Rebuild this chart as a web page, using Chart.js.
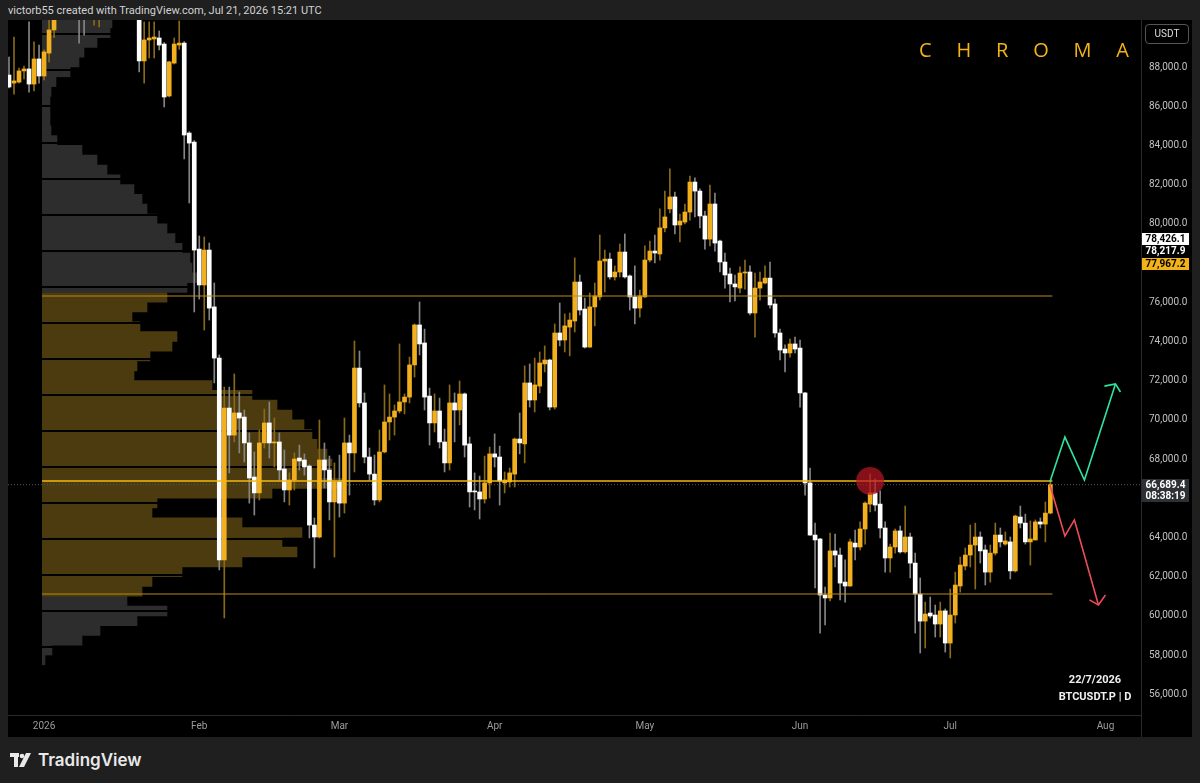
<!DOCTYPE html>
<html>
<head>
<meta charset="utf-8">
<script src="https://cdn.jsdelivr.net/npm/chart.js"></script>
<style>
  body { margin:0; width:1200px; height:783px; overflow:hidden; background:#1f1f1f; font-family:Roboto, "Liberation Sans", sans-serif; }
  #hdr { position:absolute; left:8px; top:4px; font-size:11px; color:#d2d2d2; }
  #panel { position:absolute; left:8px; top:20px; width:1184px; height:717px; background:#000; }
  #profWrap { position:absolute; left:42px; top:20px; width:400px; height:695px; }
  #mainWrap { position:absolute; left:8px; top:20px; width:1184px; height:717px; }
  #axisSep { position:absolute; left:1141px; top:715px; width:1px; height:22px; background:#2a2a2a; }
  #chroma { position:absolute; left:919px; top:36px; width:210px; display:flex; justify-content:space-between;
            font-family:"Open Sans", sans-serif; font-size:20px; color:#f2b418; }
  .plabel { position:absolute; left:1142px; width:47px; font-size:10px; font-weight:bold; text-align:center; }
  #usdt { position:absolute; left:1145px; top:24px; width:42px; height:18px; border:1px solid #555; border-radius:4px;
          font-size:10px; color:#ddd; text-align:center; line-height:18px; }
  .info { position:absolute; left:1040px; width:110px; text-align:center; font-size:11px; font-weight:bold; color:#f0f0f0; }
  #logo { position:absolute; left:10px; top:750px; display:flex; align-items:center; gap:6px;
          font-family:Inter, Roboto, sans-serif; font-size:17px; font-weight:600; color:#e9e9e9; }
</style>
</head>
<body>
<div id="hdr">victorb55 created with TradingView.com, Jul 21, 2026 15:21 UTC</div>
<div id="panel"></div>
<div id="profWrap"><canvas id="prof"></canvas></div>
<div id="mainWrap"><canvas id="main"></canvas></div>
<div id="axisSep"></div>
<div id="chroma"><span>C</span><span>H</span><span>R</span><span>O</span><span>M</span><span>A</span></div>
<div id="usdt">USDT</div>
<div class="plabel" style="top:233px;height:12px;line-height:12px;background:#fff;color:#000;">78,426.1</div>
<div class="plabel" style="top:245px;height:12px;line-height:12px;background:#000;color:#fff;">78,217.9</div>
<div class="plabel" style="top:258px;height:12px;line-height:12px;background:#f2b21a;color:#000;">77,967.2</div>
<div class="plabel" style="top:479px;height:23px;line-height:11px;background:#2d3034;color:#fff;">66,689.4<br>08:38:19</div>
<div class="info" style="top:673px;">22/7/2026</div>
<div class="info" style="top:690px;">BTCUSDT.P | D</div>
<div id="logo">
  <svg width="22" height="16" viewBox="0 0 22 16">
    <rect x="0" y="1" width="9" height="4" fill="#e9e9e9"/>
    <rect x="4" y="1" width="4" height="14" fill="#e9e9e9"/>
    <circle cx="12" cy="4" r="2.3" fill="#e9e9e9"/>
    <polygon points="16,1 21,1 14,15 9,15" fill="#e9e9e9"/>
  </svg>
  <span>TradingView</span>
</div>

<script>
// BTCUSDT.P daily candles, first candle = 2025-12-25
const startDate = '2025-12-25';
const openP = [87590,87180,87230,87800,87900,87130,88410,87540,88710,89890,
  90700,91500,93900,93700,91300,91000,90500,90600,90900,91200,
  95400,97000,95600,95500,95100,93000,92600,88310,89380,89430,
  89480,89170,86520,88200,89120,89220,84630,84170,78710,76880,
  78660,75760,73150,62850,70600,69220,70350,70140,68820,67080,
  66270,68820,69840,68820,68870,67490,66420,66930,68050,67950,
  67640,64630,64020,67950,67440,65810,66830,65750,68820,68310,
  72640,70860,68100,67230,65910,68360,69890,70140,70450,70910,
  71160,72800,74840,73920,71210,69840,70450,68870,67800,70860,
  70500,71320,68770,66370,66320,65960,66780,68260,68100,66780,
  66830,67230,69020,68770,71880,71010,71720,72850,73050,70650,
  74430,74070,74730,75040,77030,75650,73710,75760,76270,78100,
  78200,77290,77540,78560,77340,76270,75700,76270,78150,78610,
  78460,79790,80760,81370,79940,80090,80600,82130,81670,80400,
  79220,81010,79120,78050,77440,76930,76720,77490,77540,75450,
  76720,76980,77230,75910,74430,73610,73410,73870,73660,71370,
  66780,64120,63920,61060,60910,63310,63100,61720,61520,63710,
  63510,64430,65700,66270,65700,64480,62950,63510,64330,63260,
  64020,62690,61110,59730,60140,60040,59580,60250,58610,60040,
  61520,62540,63100,63610,64020,63360,62230,63200,64120,63660,
  63770,62290,65040,64730,63770,63870,64790,64680,65240];
const highP = [88510,89530,87950,88050,90300,89280,89120,88870,90500,91000,
  91800,94700,94800,93800,91600,91800,90900,91300,92400,96000,
  97900,97200,95900,95600,95500,93400,92800,90300,90300,90300,
  89840,89250,88300,89480,90350,89300,84700,84250,79380,79330,
  79020,76980,73310,71670,71670,72340,71420,70500,69330,68360,
  69480,70550,70910,70090,69330,68460,67290,68310,68710,68260,
  67700,64990,69990,68820,68150,67800,68200,70090,69220,74020,
  73510,71370,68560,68200,69480,71780,71320,70760,73870,71320,
  73200,74890,76010,74630,71620,71320,71110,69530,71780,71370,
  71980,71370,69120,67290,67130,68150,68610,69280,68660,67340,
  67540,69070,70350,72750,72850,73150,73460,73770,73100,74890,
  75960,75400,75450,78260,77390,76210,76470,76980,79430,78660,
  78510,77850,78970,79480,77390,77850,76620,78870,79120,79430,
  80760,81670,82800,81620,80500,81010,82440,82340,81780,80650,
  81980,81570,79170,78510,77740,77390,77800,78150,77850,77490,
  77540,77850,78050,76160,74630,73820,74120,74220,74070,71400,
  67540,64730,63950,61470,64220,64170,63460,62850,63920,64380,
  64790,65810,67230,66980,66370,64790,63660,64430,64580,65600,
  64220,63200,61930,60700,60960,60550,60700,60350,61370,62230,
  63000,63460,64630,64730,64280,63610,63610,64730,64480,64280,
  64020,65140,65600,65190,64840,64890,64990,65810,66880];
const lowP = [86930,86620,87180,87390,86720,86780,87180,87340,88260,89500,
  90500,91300,92300,90800,89220,89630,90450,90140,90040,91000,
  94600,95000,94300,94900,92500,91000,87750,87180,88460,88460,
  88870,85960,86470,88150,88900,83310,81060,75500,76160,74580,
  75090,71880,62340,59890,67290,68870,68310,67850,65750,65140,
  65910,68560,68050,67590,66930,65810,65650,66420,67440,67180,
  63970,62440,63970,66520,64890,63000,65040,65240,66160,67340,
  70650,67800,66930,65650,65810,68310,68970,69220,70350,70300,
  70860,72180,73310,70500,68710,69380,68560,67340,67440,68870,
  69740,68100,65550,65400,64940,65750,66010,67590,65650,66270,
  66570,66570,68260,67800,70650,70400,71370,72440,70500,70550,
  73770,73460,73260,74480,75350,73660,73700,74790,76110,76520,
  77180,77130,77290,77230,75600,74890,75240,76250,78050,78000,
  78150,79580,80550,79480,79070,79990,80190,80350,79790,78710,
  78870,78610,77540,76720,76010,76060,76470,76670,75350,74220,
  76110,76930,75700,74220,73050,72440,73200,73410,70650,66160,
  64100,61420,59120,59530,60760,62490,60810,60700,61500,62850,
  63360,63660,65300,65350,63970,62230,62230,63200,63200,63200,
  61930,59120,58100,58360,59890,58920,58920,58150,57850,59630,
  61210,62340,62490,61370,62690,61570,61720,63100,63510,63600,
  61880,62230,64480,63660,62590,63860,64480,63770,65200];
const closeP = [86980,87290,87800,87900,87130,88410,87540,88770,89890,90700,
  91500,93900,93700,91300,91000,90500,90600,90900,91200,95400,
  97000,95600,95500,95100,93000,92600,88310,89380,89480,89530,
  89120,86470,88260,89170,89220,84530,84120,78660,76880,78660,
  75700,73150,62850,70600,69220,70350,70090,68820,67030,66270,
  68820,69840,68820,68870,67440,66420,66930,68000,67900,67590,
  64630,64020,67950,67440,65810,66830,65750,68820,68310,72640,
  70860,68100,67230,65910,68360,69890,70140,70450,70910,71160,
  72800,74840,73870,71160,69840,70450,68870,67800,70860,70500,
  71320,68710,66320,66320,65960,66780,68260,68100,66880,66930,
  67290,69020,68820,71880,71010,71780,72900,73050,70650,74430,
  74070,74790,75090,77030,75600,73710,75760,76320,78100,78200,
  77290,77540,78560,77290,76270,75700,76320,78150,78610,78510,
  79790,80350,81370,79940,80140,80600,82130,81670,80400,79220,
  81010,79020,78050,77390,76930,76780,77490,77540,75450,76720,
  77030,77230,75860,74430,73560,73410,73870,73610,71370,66780,
  64120,63870,61060,60910,63310,63100,61670,61520,63770,63510,
  64430,65750,66270,65650,64480,62950,63510,64330,63260,64020,
  62690,61110,59730,60090,59990,59580,60250,58610,60040,61570,
  62590,63100,63610,64020,63310,62230,63200,64120,63770,63820,
  62290,65090,64730,63770,63920,64790,64680,65240,66689.4];

// time axis
const monthTickDates = ['2026-01-01','2026-02-01','2026-03-01','2026-04-01','2026-05-01','2026-06-01','2026-07-01','2026-08-01'];
const monthTickLabels = ['2026','Feb','Mar','Apr','May','Jun','Jul','Aug'];

// drawn levels (value area high, point of control, value area low) and last price
const levelVAH = 76316;
const levelPOC = 66880;
const levelVAL = 61112;
const lastPrice = 66689.4;
const levelFrom = '2026-01-01';
const levelTo = '2026-07-21';

// fixed range volume profile (row price, volume in k BTC)
const profilePrice = [57750,58250,58750,59250,59750,60250,60750,61250,61750,62250,
  62750,63250,63750,64250,64750,65250,65750,66250,66750,67250,
  67750,68250,68750,69250,69750,70250,70750,71250,71750,72250,
  72750,73250,73750,74250,74750,75250,75750,76250,76750,77250,
  77750,78250,78750,79250,79750,80250,80750,81250,81750,82250,
  82750,83250,83750,84250,84750,85250,85750,86250,86750,87250,
  87750,88250,88750,89250,89750,90250];
const profileVol = [0.3,1.0,4.0,5.8,9.5,12.5,8.5,10.0,11.0,14.0,
  20.0,25.5,24.0,26.0,20.0,11.0,11.5,23.0,30.0,28.0,
  29.0,28.5,27.5,27.0,26.2,25.0,23.5,21.0,17.0,9.2,
  9.5,10.8,13.0,13.5,9.8,9.0,10.5,12.5,14.5,15.5,
  15.0,14.8,14.0,13.3,12.5,11.5,10.5,10.0,9.2,7.8,
  6.5,5.5,4.0,1.5,0.9,0.8,0.8,0.8,0.9,1.4,
  2.8,3.7,4.2,5.5,6.8,7.0];

// scenario arrows (bar index, price) and the marked rejection
const bullX = [207.9, 210.9, 214.8, 221.0];
const bullY = [66830, 69120, 66930, 71830];
const bullHeadX = [218.8, 221.0, 222.0];
const bullHeadY = [71720, 71830, 71420];
const bearX = [207.9, 210.9, 212.8, 217.6];
const bearY = [66670, 64070, 64890, 60550];
const bearHeadX = [215.8, 217.6, 219.0];
const bearHeadY = [60810, 60550, 61060];
const markDate = '2026-06-15';
const markPrice = 66880;

// ---------------------------------------------------------------
const DAY = 86400000;
const dayIndex = d => Math.round((Date.parse(d) - Date.parse(startDate)) / DAY);
const tickIdx = monthTickDates.map(dayIndex);
const idx = openP.map((_, i) => i);
const isUp = i => closeP[i] >= openP[i];
const xMin = -0.2, xMax = 226.1, yMin = 54939, yMax = 90398;
const pts = (xs, ys) => xs.map((x, i) => ({ x: x, y: ys[i] }));
const hline = (v) => [{ x: dayIndex(levelFrom) - 0.4, y: v }, { x: dayIndex(levelTo) + 0.4, y: v }];
const noPad = s => { s.paddingLeft = 0; s.paddingRight = 0; s.paddingTop = 0; s.paddingBottom = 0; };

// volume profile, behind the candles
new Chart(document.getElementById('prof'), {
  type: 'bar',
  data: {
    datasets: [{
      data: profilePrice.map((p, i) => ({ x: profileVol[i], y: p })),
      backgroundColor: profilePrice.map(p => (p >= levelVAL && p <= levelVAH) ? '#4b3b0e' : '#2d2d2d'),
      barPercentage: 1, categoryPercentage: 1, borderWidth: 0
    }]
  },
  options: {
    indexAxis: 'y', responsive: true, maintainAspectRatio: false, animation: false,
    layout: { padding: 0, autoPadding: false },
    plugins: { legend: { display: false }, tooltip: { enabled: false } },
    scales: {
      x: { type: 'linear', min: 0, max: 40, display: false },
      y: { type: 'linear', min: yMin, max: yMax, z: 1, offset: false,
           grid: { color: '#000', lineWidth: 2, drawTicks: false, offset: false, z: 1 },
           border: { display: false }, ticks: { display: false },
           afterBuildTicks: s => { const t = []; for (let v = 58430; v < yMax; v += 1837) t.push({ value: v }); s.ticks = t; },
           afterFit: s => { s.width = 0; noPad(s); } }
    }
  }
});

// candles + drawings
new Chart(document.getElementById('main'), {
  type: 'bar',
  data: {
    datasets: [
      { type: 'line', label: 'mark', data: [{ x: dayIndex(markDate), y: markPrice }], showLine: false,
        pointRadius: 14, pointBackgroundColor: 'rgba(185,22,36,0.72)', pointBorderWidth: 0, order: 0 },
      { type: 'line', label: 'bull', data: pts(bullX, bullY), borderColor: '#2fe3a0', borderWidth: 1.6, pointRadius: 0, order: 1 },
      { type: 'line', label: 'bullHead', data: pts(bullHeadX, bullHeadY), borderColor: '#2fe3a0', borderWidth: 1.6, pointRadius: 0, order: 1 },
      { type: 'line', label: 'bear', data: pts(bearX, bearY), borderColor: '#ec4d57', borderWidth: 1.6, pointRadius: 0, order: 1 },
      { type: 'line', label: 'bearHead', data: pts(bearHeadX, bearHeadY), borderColor: '#ec4d57', borderWidth: 1.6, pointRadius: 0, order: 1 },
      { type: 'line', label: 'VAH', data: hline(levelVAH), borderColor: '#b88a1c', borderWidth: 1, pointRadius: 0, order: 2 },
      { type: 'line', label: 'POC', data: hline(levelPOC), borderColor: '#f5b90f', borderWidth: 1.5, pointRadius: 0, order: 2 },
      { type: 'line', label: 'VAL', data: hline(levelVAL), borderColor: '#b88a1c', borderWidth: 1, pointRadius: 0, order: 2 },
      { label: 'body', data: idx.map(i => ({ x: i, y: [Math.min(openP[i], closeP[i]), Math.max(openP[i], closeP[i])] })),
        backgroundColor: idx.map(i => isUp(i) ? '#f2b01e' : '#ffffff'),
        barThickness: 4, minBarLength: 1, grouped: false, order: 3 },
      { label: 'wick', data: idx.map(i => ({ x: i, y: [lowP[i], highP[i]] })),
        backgroundColor: idx.map(i => isUp(i) ? '#8a6a18' : '#858585'),
        barThickness: 1, grouped: false, order: 4 },
      { type: 'line', label: 'last', data: [{ x: xMin, y: lastPrice }, { x: xMax, y: lastPrice }],
        borderColor: '#555', borderWidth: 1, borderDash: [1, 2], pointRadius: 0, order: 5 }
    ]
  },
  options: {
    responsive: true, maintainAspectRatio: false, animation: false,
    layout: { padding: 0, autoPadding: false },
    plugins: { legend: { display: false }, tooltip: { enabled: false } },
    scales: {
      x: { type: 'linear', min: xMin, max: xMax, offset: false,
           grid: { display: false, drawTicks: false, offset: false },
           border: { display: true, color: '#2a2a2a' },
           ticks: { autoSkip: false, maxRotation: 0, padding: 5, color: '#9c9c9c',
                    font: { family: 'Roboto', size: 10 },
                    callback: v => { const j = tickIdx.indexOf(v); return j >= 0 ? monthTickLabels[j] : ''; } },
           afterBuildTicks: s => { s.ticks = tickIdx.map(v => ({ value: v })); },
           afterFit: s => { s.height = 22; noPad(s); } },
      y: { type: 'linear', position: 'right', min: yMin, max: yMax,
           grid: { display: false, drawTicks: false },
           border: { display: true, color: '#2a2a2a' },
           ticks: { padding: 8, color: '#c2c2c2', font: { family: 'Roboto', size: 10 },
                    callback: v => (v > 89000 || v === 78000 || v === 66000) ? '' :
                      v.toLocaleString('en-US', { minimumFractionDigits: 1, maximumFractionDigits: 1 }) },
           afterBuildTicks: s => { const t = []; for (let v = 56000; v <= 90000; v += 2000) t.push({ value: v }); s.ticks = t; },
           afterFit: s => { s.width = 51; noPad(s); } }
    }
  }
});
</script>
</body>
</html>
